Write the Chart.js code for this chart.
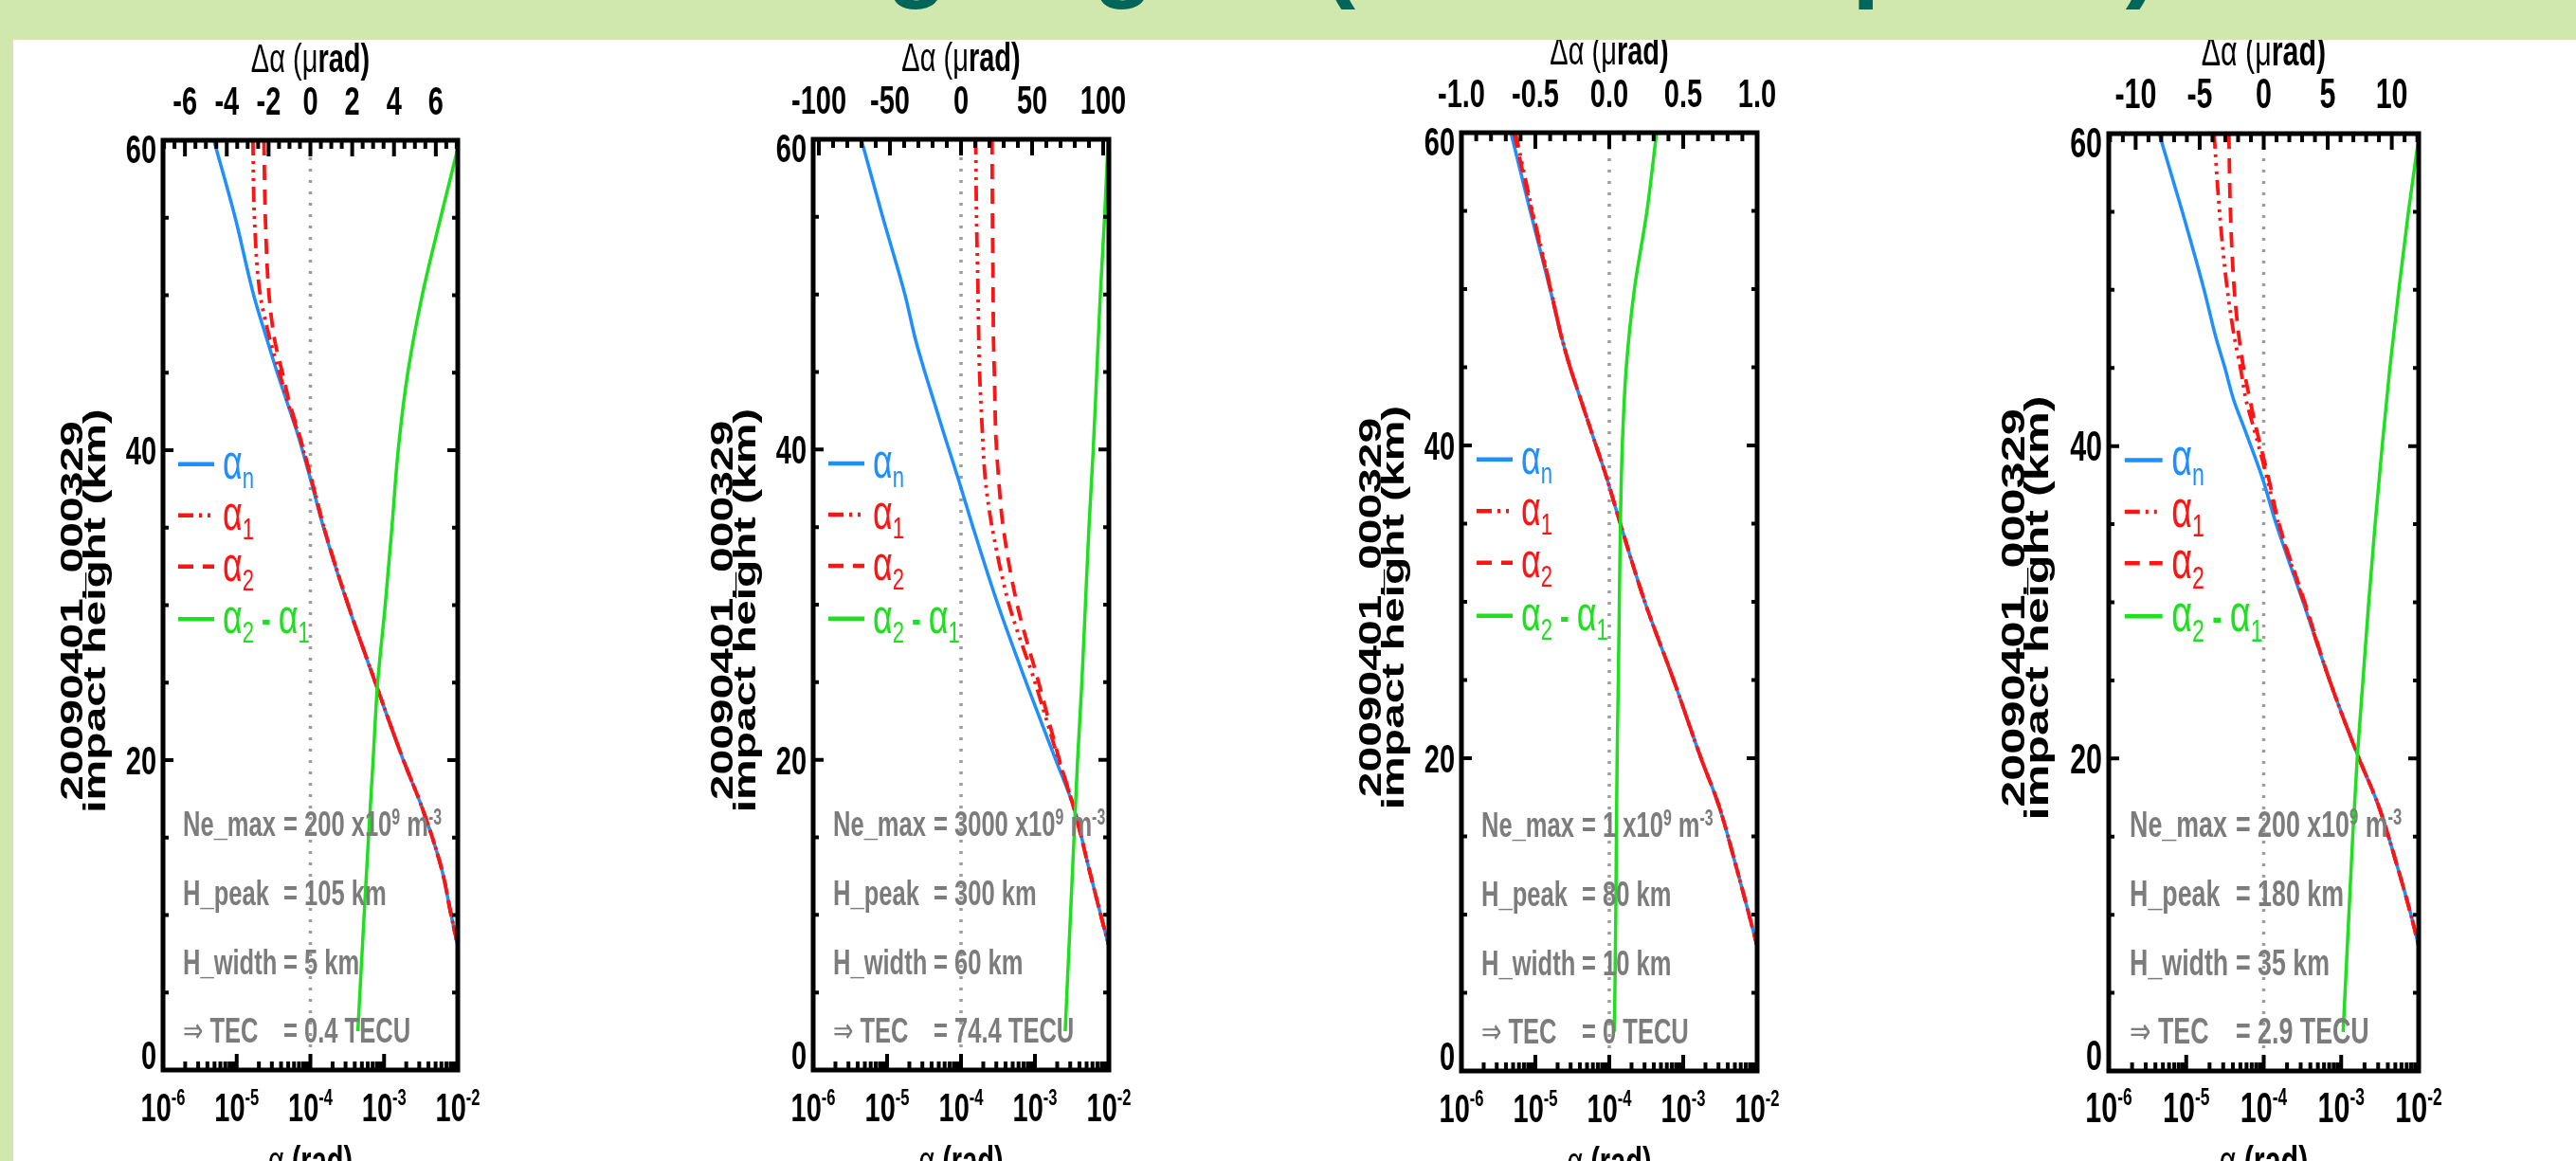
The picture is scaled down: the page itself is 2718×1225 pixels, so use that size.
<!DOCTYPE html>
<html>
<head>
<meta charset="utf-8">
<script src="https://cdn.jsdelivr.net/npm/chart.js@4.4.1/dist/chart.umd.min.js"></script>
<style>
  html, body { margin: 0; padding: 0; }
  body { width: 2718px; height: 1225px; overflow: hidden; background: #d0e8ad; position: relative; }
  #sheet { position: absolute; left: 14px; top: 42px; right: 0; bottom: 0; background: #fff; }
  #title { position: absolute; left: 576px; top: -102px; font: bold 106px "Liberation Sans", Arial, sans-serif;
           line-height: 106px; color: #00665a; white-space: nowrap; }
  canvas { position: absolute; top: 42px; }
</style>
</head>
<body>
<div id="title">Bending angles (with ionosphere)</div>
<div id="sheet"></div>
<canvas id="c0"></canvas>
<canvas id="c1"></canvas>
<canvas id="c2"></canvas>
<canvas id="c3"></canvas>
<script>
const HEIGHT_ALPHA = [60, 55, 50, 47, 45, 43, 41, 38, 35, 30, 25, 20, 17, 13, 10, 8];
const HEIGHT_DIFF = [60, 55, 50, 45, 40, 35, 30, 25, 20, 15, 10, 5, 2.5];

// bending angles (rad), one array per curve and panel
const ALPHA_N_1 = [4.90e-6, 9.55e-6, 1.70e-5, 2.63e-5, 3.55e-5, 4.90e-5, 6.76e-5, 1.02e-4, 1.51e-4, 3.24e-4, 7.59e-4, 1.82e-3, 3.24e-3, 6.03e-3, 8.13e-3, 1.0e-2];
const ALPHA_1_1 = [1.66e-5, 1.74e-5, 2.09e-5, 2.88e-5, 3.80e-5, 5.01e-5, 6.92e-5, 1.05e-4, 1.53e-4, 3.26e-4, 7.62e-4, 1.83e-3, 3.24e-3, 6.03e-3, 8.13e-3, 1.0e-2];
const ALPHA_2_1 = [2.34e-5, 2.45e-5, 2.75e-5, 3.31e-5, 4.17e-5, 5.25e-5, 7.08e-5, 1.05e-4, 1.53e-4, 3.26e-4, 7.62e-4, 1.83e-3, 3.24e-3, 6.03e-3, 8.13e-3, 1.0e-2];
const DIFF_1 = [7.15, 6.23, 5.35, 4.66, 4.2, 3.9, 3.58, 3.22, 3.0, 2.78, 2.57, 2.37, 2.27];

const ALPHA_N_2 = [4.47e-6, 8.71e-6, 1.74e-5, 2.45e-5, 3.24e-5, 4.37e-5, 5.89e-5, 9.33e-5, 1.45e-4, 3.16e-4, 7.59e-4, 1.91e-3, 3.31e-3, 5.37e-3, 7.76e-3, 1.0e-2];
const ALPHA_1_2 = [1.58e-4, 1.62e-4, 1.70e-4, 1.74e-4, 1.78e-4, 1.86e-4, 1.95e-4, 2.14e-4, 2.63e-4, 4.47e-4, 1.0e-3, 2.09e-3, 3.31e-3, 5.37e-3, 7.76e-3, 1.0e-2];
const ALPHA_2_2 = [2.63e-4, 2.66e-4, 2.72e-4, 2.75e-4, 2.82e-4, 2.88e-4, 2.95e-4, 3.24e-4, 3.72e-4, 5.75e-4, 1.12e-3, 2.14e-3, 3.31e-3, 5.37e-3, 7.76e-3, 1.0e-2];
const DIFF_2 = [103.5, 101, 98, 95.5, 93, 90, 87.5, 85, 82, 79.5, 77, 74.5, 73.3];

const ALPHA_N_3 = [4.68e-6, 8.51e-6, 1.58e-5, 2.24e-5, 2.95e-5, 4.07e-5, 5.62e-5, 9.12e-5, 1.41e-4, 3.02e-4, 7.41e-4, 1.74e-3, 3.02e-3, 5.25e-3, 7.76e-3, 1.0e-2];
const ALPHA_1_3 = [5.37e-6, 9.12e-6, 1.62e-5, 2.24e-5, 2.95e-5, 4.07e-5, 5.62e-5, 9.12e-5, 1.41e-4, 3.02e-4, 7.41e-4, 1.74e-3, 3.02e-3, 5.25e-3, 7.76e-3, 1.0e-2];
const ALPHA_2_3 = [5.13e-6, 8.91e-6, 1.60e-5, 2.24e-5, 2.95e-5, 4.07e-5, 5.62e-5, 9.12e-5, 1.41e-4, 3.02e-4, 7.41e-4, 1.74e-3, 3.02e-3, 5.25e-3, 7.76e-3, 1.0e-2];
const DIFF_3 = [0.32, 0.255, 0.17, 0.115, 0.088, 0.075, 0.068, 0.061, 0.053, 0.048, 0.044, 0.038, 0.033];

const ALPHA_N_4 = [4.47e-6, 8.91e-6, 1.70e-5, 2.40e-5, 3.16e-5, 4.07e-5, 5.75e-5, 9.55e-5, 1.45e-4, 3.24e-4, 7.08e-4, 1.70e-3, 3.02e-3, 5.37e-3, 7.94e-3, 1.0e-2];
const ALPHA_1_4 = [2.29e-5, 2.69e-5, 3.39e-5, 4.17e-5, 5.01e-5, 5.89e-5, 7.59e-5, 1.10e-4, 1.55e-4, 3.31e-4, 7.08e-4, 1.70e-3, 3.02e-3, 5.37e-3, 7.94e-3, 1.0e-2];
const ALPHA_2_4 = [3.55e-5, 3.72e-5, 4.17e-5, 4.79e-5, 5.50e-5, 6.61e-5, 8.13e-5, 1.15e-4, 1.58e-4, 3.39e-4, 7.08e-4, 1.70e-3, 3.02e-3, 5.37e-3, 7.94e-3, 1.0e-2];
const DIFF_4 = [12.15, 11.3, 10.55, 9.85, 9.25, 8.7, 8.2, 7.75, 7.3, 6.95, 6.65, 6.35, 6.2];

// axis ticks
const Y_TICKS = [0, 20, 40, 60];
const LOG_TICKS = [1e-6, 1e-5, 1e-4, 1e-3, 1e-2];
const LOG_EXPONENTS = ['-6', '-5', '-4', '-3', '-2'];
const DA_TICKS_1 = [-6, -4, -2, 0, 2, 4, 6];
const DA_TICKS_2 = [-100, -50, 0, 50, 100];
const DA_TICKS_3 = [-1, -0.5, 0, 0.5, 1];
const DA_LABELS_3 = ['-1.0', '-0.5', '0.0', '0.5', '1.0'];
const DA_TICKS_4 = [-10, -5, 0, 5, 10];

// profile parameters printed in each panel
const NE_MAX = ['200', '3000', '1', '200'];
const H_PEAK = ['105', '300', '80', '180'];
const H_WIDTH = ['5', '60', '10', '35'];
const TEC = ['0.4', '74.4', '0', '2.9'];

const Y_TITLE = ['20090401_000329', 'impact height (km)'];
const LEGEND_ROWS_KM = [39.1, 35.8, 32.5, 29.1];

const BLUE = '#1e8fff', RED = '#ff1414', GREEN = '#1ee01e', GREY_TXT = '#7c7c7c';
const SQ = 0.69; // the figure is squeezed horizontally
const FONT = '"Liberation Sans", "DejaVu Sans", Arial, sans-serif';

const PANELS = [
  { box: [172, 483, 148, 1129], range: 7.05, major: 2, minor: 0.5, ticks: DA_TICKS_1, labels: DA_TICKS_1.map(String),
    n: ALPHA_N_1, a1: ALPHA_1_1, a2: ALPHA_2_1, diff: DIFF_1, k: 1, eq: 127 },
  { box: [858, 1170, 147, 1129], range: 104, major: 50, minor: 10, ticks: DA_TICKS_2, labels: DA_TICKS_2.map(String),
    n: ALPHA_N_2, a1: ALPHA_1_2, a2: ALPHA_2_2, diff: DIFF_2, k: 1, eq: 127 },
  { box: [1542, 1854, 140, 1130], range: 1.0, major: 0.5, minor: 0.1, ticks: DA_TICKS_3, labels: DA_LABELS_3,
    n: ALPHA_N_3, a1: ALPHA_1_3, a2: ALPHA_2_3, diff: DIFF_3, k: 1, eq: 127 },
  { box: [2225, 2552, 141, 1130], range: 12.1, major: 5, minor: 1, ticks: DA_TICKS_4, labels: DA_TICKS_4.map(String),
    n: ALPHA_N_4, a1: ALPHA_1_4, a2: ALPHA_2_4, diff: DIFF_4, k: 1.05, eq: 134 }
];

function setFont(ctx, size, bold) {
  ctx.font = (bold ? 'bold ' : '') + size + 'px ' + FONT;
}

function runWidth(ctx, parts) {
  let w = 0;
  for (const [t, size, bold] of parts) {
    setFont(ctx, size, bold);
    w += ctx.measureText(t).width * SQ;
  }
  return w;
}

// parts: [text, size, bold, dy]
function drawRun(ctx, parts, x, y, align, color) {
  const w = runWidth(ctx, parts);
  let cx = align === 'center' ? x - w / 2 : align === 'right' ? x - w : x;
  ctx.save();
  ctx.fillStyle = color;
  ctx.textAlign = 'left';
  ctx.textBaseline = 'alphabetic';
  for (const [t, size, bold, dy = 0] of parts) {
    setFont(ctx, size, bold);
    ctx.save();
    ctx.translate(cx, y + dy);
    ctx.scale(SQ, 1);
    ctx.fillText(t, 0, 0);
    ctx.restore();
    cx += ctx.measureText(t).width * SQ;
  }
  ctx.restore();
}

function framePlugin(p, idx) {
  return {
    id: 'idlFrame',
    afterDatasetsDraw(chart) {
      const ctx = chart.ctx;
      const { left, right, top, bottom } = chart.chartArea;
      const xLog = chart.scales.x, xTop = chart.scales.x2, yH = chart.scales.y;
      const k = p.k;
      const F = 42 * k;

      ctx.save();
      // inward ticks on all four sides
      ctx.strokeStyle = '#000';
      ctx.lineCap = 'butt';
      ctx.lineWidth = 4;
      ctx.beginPath();
      for (let h = 0; h <= 60; h += 5) {
        const yy = yH.getPixelForValue(h);
        const len = h % 20 === 0 ? 11 : 6;
        ctx.moveTo(left, yy); ctx.lineTo(left + len, yy);
        ctx.moveTo(right, yy); ctx.lineTo(right - len, yy);
      }
      LOG_TICKS.forEach((v, i) => {
        const xx = xLog.getPixelForValue(v);
        ctx.moveTo(xx, bottom); ctx.lineTo(xx, bottom - 17);
        if (i < LOG_TICKS.length - 1) {
          for (let m = 2; m <= 9; m++) {
            const xm = xLog.getPixelForValue(v * m);
            ctx.moveTo(xm, bottom); ctx.lineTo(xm, bottom - 9);
          }
        }
      });
      const i0 = Math.ceil(-p.range / p.minor - 1e-9);
      for (let i = i0; i * p.minor <= p.range + 1e-9; i++) {
        const v = i * p.minor;
        const isMajor = Math.abs(v / p.major - Math.round(v / p.major)) < 1e-6;
        const xx = xTop.getPixelForValue(v);
        ctx.moveTo(xx, top); ctx.lineTo(xx, top + (isMajor ? 17 : 9));
      }
      ctx.stroke();
      ctx.lineWidth = 5;
      ctx.strokeRect(left, top, right - left, bottom - top);
      ctx.restore();

      // left tick labels
      Y_TICKS.forEach(h => {
        const yy = yH.getPixelForValue(h);
        let base = yy + 15 * k;
        if (h === 60) base = top + 24 * k;
        if (h === 0) base = bottom - 1;
        drawRun(ctx, [[String(h), F, true]], left - 7, base, 'right', '#000');
      });

      // top axis: delta alpha (micro rad)
      p.ticks.forEach((v, i) => {
        drawRun(ctx, [[p.labels[i], F, true]], xTop.getPixelForValue(v), top - 27, 'center', '#000');
      });
      const mid = (left + right) / 2;
      drawRun(ctx, [['\u0394\u03b1 (\u03bc', F, false], ['rad)', F, true]], mid, top - 72, 'center', '#000');

      // bottom axis: alpha (rad), log
      LOG_TICKS.forEach((v, i) => {
        drawRun(ctx, [['10', F, true], [LOG_EXPONENTS[i], 24 * k, true, -17 * k]],
          xLog.getPixelForValue(v), bottom + 54, 'center', '#000');
      });
      drawRun(ctx, [['\u03b1', F, false], [' (rad)', F, true]], mid, bottom + 110, 'center', '#000');

      // rotated y title, two lines
      const cy = (top + bottom) / 2 + 6;
      ctx.save();
      ctx.fillStyle = '#000';
      setFont(ctx, 48 * k, true);
      ctx.textAlign = 'center';
      ctx.textBaseline = 'alphabetic';
      [85, 61].forEach((off, i) => {
        ctx.save();
        ctx.translate(left - off * k, cy);
        ctx.scale(SQ, 1);
        ctx.rotate(-Math.PI / 2);
        ctx.fillText(Y_TITLE[i], 0, 0);
        ctx.restore();
      });
      ctx.restore();

      // legend
      const items = chart.data.datasets.filter(d => d.legendParts);
      items.forEach((d, i) => {
        const yy = yH.getPixelForValue(LEGEND_ROWS_KM[i]);
        ctx.save();
        ctx.strokeStyle = d.borderColor;
        ctx.lineWidth = 4.5;
        ctx.setLineDash(d.borderDash || []);
        ctx.beginPath();
        ctx.moveTo(left + 16 * k, yy);
        ctx.lineTo(left + 54 * k, yy);
        ctx.stroke();
        ctx.restore();
        const parts = d.legendParts.map(([t, kind]) => {
          if (kind === 'sub') return [t, 32 * k, false, 10 * k];
          if (kind === 'op') return [t, F, true];
          return [t, 52 * k, false];
        });
        drawRun(ctx, parts, left + 63 * k, yy + 15 * k, 'left', d.borderColor);
      });

      // profile parameters
      const A = 37 * k, S = 23 * k;
      const tx = left + 21 * k, ex = left + p.eq;
      const rows = [
        [[['Ne_max', A, true]], [['= ' + NE_MAX[idx] + ' x10', A, true], ['9', S, true, -12 * k], [' m', A, true], ['-3', S, true, -12 * k]]],
        [[['H_peak', A, true]], [['= ' + H_PEAK[idx] + ' km', A, true]]],
        [[['H_width', A, true]], [['= ' + H_WIDTH[idx] + ' km', A, true]]],
        [[['\u21d2 ', A, false], ['TEC', A, true]], [['= ' + TEC[idx] + ' TECU', A, true]]]
      ];
      const offsets = [247, 174, 101, 29];
      rows.forEach(([lab, val], i) => {
        const base = bottom - offsets[i];
        drawRun(ctx, lab, tx, base, 'left', GREY_TXT);
        drawRun(ctx, val, ex, base, 'left', GREY_TXT);
      });
    }
  };
}

function points(heights, values) {
  return heights.map((h, i) => ({ x: values[i], y: h }));
}

PANELS.forEach((p, idx) => {
  const [l, r, t, b] = p.box;
  const canvas = document.getElementById('c' + idx);
  const cl = l - 150;
  const w = (r - l) + 210;
  const h = 1225 - 42;
  canvas.width = w; canvas.height = h;
  canvas.style.left = cl + 'px';
  canvas.style.width = w + 'px';
  canvas.style.height = h + 'px';

  new Chart(canvas, {
    type: 'line',
    data: {
      datasets: [
        { data: [{ x: 0, y: 0 }, { x: 0, y: 60 }], xAxisID: 'x2', borderColor: '#9c9c9c',
          borderWidth: 3.5, borderDash: [3, 9], order: 9 },
        { label: 'alpha_n', data: points(HEIGHT_ALPHA, p.n), xAxisID: 'x', borderColor: BLUE,
          borderWidth: 3.5, order: 4, legendParts: [['\u03b1'], ['n', 'sub']] },
        { label: 'alpha_1', data: points(HEIGHT_ALPHA, p.a1), xAxisID: 'x', borderColor: RED,
          borderWidth: 3.8, borderDash: [16, 6, 3, 6, 3, 6, 3, 6], order: 3, legendParts: [['\u03b1'], ['1', 'sub']] },
        { label: 'alpha_2', data: points(HEIGHT_ALPHA, p.a2), xAxisID: 'x', borderColor: RED,
          borderWidth: 3.8, borderDash: [16, 10], order: 2, legendParts: [['\u03b1'], ['2', 'sub']] },
        { label: 'alpha_2 - alpha_1', data: points(HEIGHT_DIFF, p.diff), xAxisID: 'x2', borderColor: GREEN,
          borderWidth: 3.5, order: 1, legendParts: [['\u03b1'], ['2', 'sub'], [' - ', 'op'], ['\u03b1'], ['1', 'sub']] }
      ]
    },
    options: {
      responsive: false,
      animation: false,
      events: [],
      indexAxis: 'y',
      layout: { padding: { left: 150, right: 60, top: t - 42, bottom: 1225 - b } },
      elements: {
        point: { radius: 0 },
        line: { cubicInterpolationMode: 'monotone', fill: false, borderCapStyle: 'butt' }
      },
      plugins: { legend: { display: false }, tooltip: { enabled: false }, title: { display: false } },
      scales: {
        x: { type: 'logarithmic', axis: 'x', position: 'bottom', min: 1e-6, max: 1e-2, display: false },
        x2: { type: 'linear', axis: 'x', position: 'top', min: -p.range, max: p.range, display: false },
        y: { type: 'linear', axis: 'y', position: 'left', min: 0, max: 60, display: false }
      }
    },
    plugins: [framePlugin(p, idx)]
  });
});
</script>
</body>
</html>
